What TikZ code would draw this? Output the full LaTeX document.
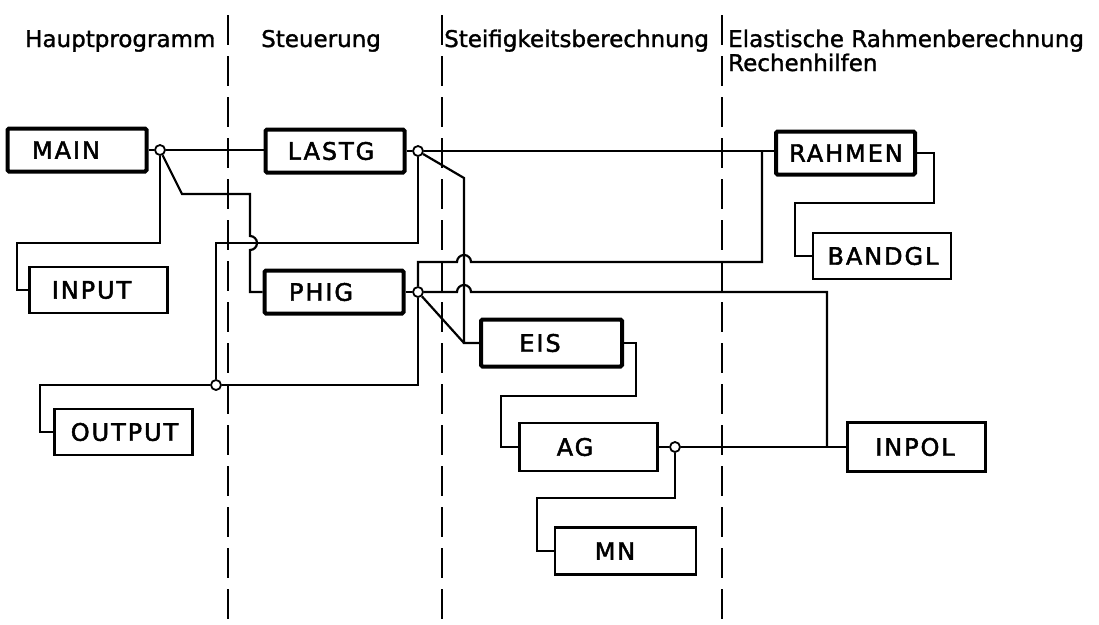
\documentclass[tikz,border=0pt]{standalone}
\usepackage{fontspec}
\setmainfont{DejaVu Sans}
\newfontfamily\boxfont[LetterSpace=8,FakeBold=2]{DejaVu Sans}
\newfontfamily\hdrfont[FakeBold=1.4]{DejaVu Sans}
\usetikzlibrary{backgrounds}
\begin{document}
\begin{tikzpicture}[x=1pt,y=1pt,
  conn/.style={line width=2.2pt, line join=miter},
  bbox/.style={draw, line width=4pt, minimum width=139pt, minimum height=43pt, inner sep=0pt, fill=white, rounded corners=1.5pt},
  tbox/.style={draw, line width=2.2pt, minimum width=138pt, minimum height=46pt, inner sep=0pt, fill=white},
  lbl/.style={font=\boxfont\fontsize{24}{24}\selectfont, inner sep=0pt},
  hdr/.style={font=\hdrfont\fontsize{23}{23}\selectfont, anchor=base west, inner sep=0pt},
  junc/.style={circle, draw, fill=white, line width=1.8pt, minimum size=10pt, inner sep=0pt},
  divider/.style={line width=2.2pt, dash pattern=on 30pt off 11pt}]
\useasboundingbox (0,0) rectangle (1099,-624);

% headers
\node[hdr] (h1) at (25,-47) {Hauptprogramm};
\node[hdr] (h2) at (261,-47) {Steuerung};
\node[hdr] (h3) at (444,-47) {Steifigkeitsberechnung};
\node[hdr] (h4) at (728,-47) {Elastische Rahmenberechnung};
\node[hdr] (h5) at (728,-71) {Rechenhilfen};

% dividers
\coordinate (d1t) at (228,-15); \coordinate (d1b) at (228,-624);
\coordinate (d2t) at (442,-15); \coordinate (d2b) at (442,-624);
\coordinate (d3t) at (722,-15); \coordinate (d3b) at (722,-624);
\draw[divider] (d1t) -- (d1b);
\draw[divider] (d2t) -- (d2b);
\draw[divider] (d3t) -- (d3b);

% boxes
\node[bbox] (main) at (77,-150) {};
\node[lbl] (mainT) at (66,-150) {MAIN};
\node[bbox] (lastg) at (335,-151) {};
\node[lbl] (lastgT) at (331,-151) {LASTG};
\node[tbox] (input) at (98.5,-290) {};
\node[lbl] (inputT) at (91.5,-290) {INPUT};
\node[bbox] (phig) at (334,-292) {};
\node[lbl] (phigT) at (321,-292) {PHIG};
\node[tbox] (output) at (123.5,-432) {};
\node[lbl] (outputT) at (124.5,-432) {OUTPUT};
\node[bbox] (rahmen) at (845.5,-153) {};
\node[lbl] (rahmenT) at (846,-153) {RAHMEN};
\node[tbox] (bandgl) at (882,-256) {};
\node[lbl] (bandglT) at (883,-256) {BANDGL};
\node[bbox, minimum height=47pt, minimum width=141pt] (eis) at (551.5,-343) {};
\node[lbl] (eisT) at (540,-343) {EIS};
\node[tbox, minimum height=48pt] (ag) at (588.5,-447) {};
\node[lbl] (agT) at (575,-447) {AG};
\node[tbox, minimum height=47pt, minimum width=141pt] (mn) at (625.5,-551) {};
\node[lbl] (mnT) at (615,-551) {MN};
\node[tbox, minimum height=49pt] (inpol) at (916.5,-447) {};
\node[lbl] (inpolT) at (915,-447) {INPOL};

% junctions
\node[junc] (jmain) at (160,-150) {};
\node[junc] (jlastg) at (418,-151) {};
\node[junc] (jphig) at (418,-292) {};
\node[junc] (jout) at (216,-385) {};
\node[junc] (jag) at (675,-447) {};

\begin{scope}[on background layer]
\begin{scope}[conn]
  % stubs
  \draw (main.east) -- (jmain);
  \draw (lastg.east) -- (jlastg);
  \draw (phig.east) -- (jphig);
  \draw (ag.east) -- (jag);
  % MAIN
  \draw (jmain) -- (jmain -| lastg.west);
  \draw (jmain) |- (17,-243) |- (input.west);
  \draw (jmain) -- (182,-194) -- (250,-194) -- (250,-236)
        arc[start angle=90, end angle=-90, radius=7] -- (250,-292) -- (phig.west);
  % LASTG
  \draw (jlastg) -- (jlastg -| rahmen.west);
  \draw (jlastg) -- (418,-243) -- (216,-243) -- (jout);
  \draw (jlastg) -- (464,-178) -- (464,-343) -- (eis.west);
  % PHIG
  \draw (jphig) |- (jout);
  \draw (jphig) -- (464,-343);
  \draw (jphig) -- (418,-262) -- (457,-262)
        arc[start angle=180, end angle=0, radius=7] -- (762,-262) -- (762,-151);
  \draw (jphig) -- (457,-292)
        arc[start angle=180, end angle=0, radius=7] -- (827,-292) -- (827,-447);
  % OUTPUT
  \draw (jout) -- (40,-385) |- (output.west);
  % RAHMEN
  \draw (rahmen.east) -- (934,-153) |- (795,-203) |- (bandgl.west);
  % EIS
  \draw (eis.east) -- (636,-343) |- (501,-396) |- (ag.west);
  % AG
  \draw (jag) -- (inpol.west);
  \draw (jag) |- (537,-498) |- (mn.west);
\end{scope}
\end{scope}
\end{tikzpicture}
\end{document}
